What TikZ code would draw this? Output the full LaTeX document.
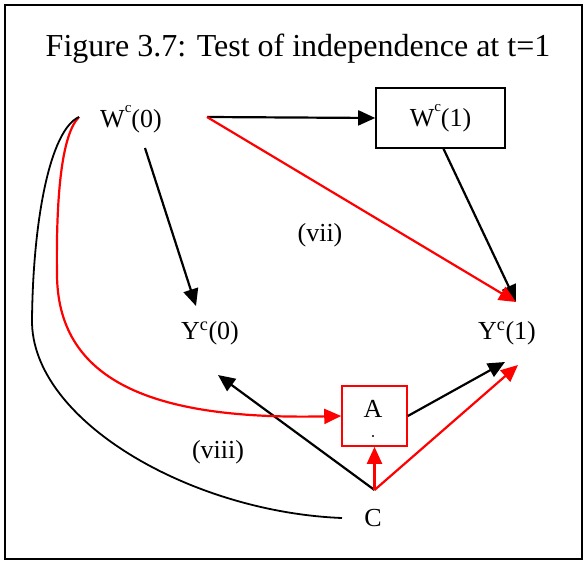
\documentclass[tikz,border=0pt]{standalone}
\usepackage{fontspec}
\setmainfont{Liberation Serif}
\usetikzlibrary{arrows.meta}

\tikzset{
  lbl/.style={font=\fontsize{26}{30}\selectfont, inner sep=1pt},
  link/.style={line width=2.2pt, -{Triangle[length=17pt,width=15pt]}},
  redlink/.style={link, red},
  boxnode/.style={draw, line width=1.6pt, minimum width=129pt, minimum height=60pt}
}
\newcommand{\highsup}[1]{\raisebox{1.3ex}{\fontsize{15}{15}\selectfont #1}}

\begin{document}
\begin{tikzpicture}[x=1pt, y=-1pt]
    \useasboundingbox (0,0) rectangle (585,561);
    % Rahmen
    \draw[line width=1.6pt] (5,5) rectangle (582,559);

    % Titel
    \node[font=\fontsize{32}{36}\selectfont] (title) at (298,49) {Figure 3.7: Test of independence at t=1};

    % Knoten
    \node[lbl] (w0) at (131,119) {W\highsup{c}(0)};
    \node[lbl, boxnode] (w1) at (440.5,118) {W\highsup{c}(1)};
    \node[lbl] (y0) at (210,333) {Y\textsuperscript{c}(0)};
    \node[lbl] (y1) at (507,333) {Y\textsuperscript{c}(1)};
    \node[draw=red, line width=1.6pt, minimum width=65pt, minimum height=60pt] (a) at (374.5,416) {};
    \node[lbl] (atext) at (373,409) {A};
    \fill (373,436) circle (1.2pt);
    \node[lbl] (c) at (373,518) {C};

    % Beschriftungen
    \node[lbl] (vii) at (320,235) {(vii)};
    \node[lbl] (viii) at (218,452) {(viii)};

    % Anschlusspunkte
    \coordinate (w0r) at (207,117);
    \coordinate (w0l) at (79,117);
    \coordinate (w0b) at (145,148);
    \coordinate (y0t) at (196,306);
    \coordinate (y0br) at (218,375);
    \coordinate (y1t) at (516,302);
    \coordinate (y1bl) at (505,362);
    \coordinate (y1br) at (518,365);
    \coordinate (ctop) at (374.5,490);
    \coordinate (cl) at (342,518);

    % schwarze Pfeile
    \draw[link] (w0r) -- (w1.west);
    \draw[link] (w0b) -- (y0t);
    \draw[link] (w1.south) ++(3,0) -- (y1t);
    \draw[link] (ctop) -- (y0br);
    \draw[link] (a.east) -- (y1bl);

    % rote Pfeile
    \draw[redlink] (w0r) -- (y1t);
    \draw[redlink] (ctop) -- (a.south);
    \draw[redlink] (ctop) -- (y1br);
    \draw[redlink] (w0l) .. controls (61,135) and (56,200) .. (57,275)
        .. controls (58,385) and (160,420) .. (a.west);

    % Bogen von W(0) nach C
    \draw[line width=1.8pt] (w0l) .. controls (50,130) and (33,220) .. (32,320)
        .. controls (31,420) and (190,512) .. (cl);
\end{tikzpicture}
\end{document}
